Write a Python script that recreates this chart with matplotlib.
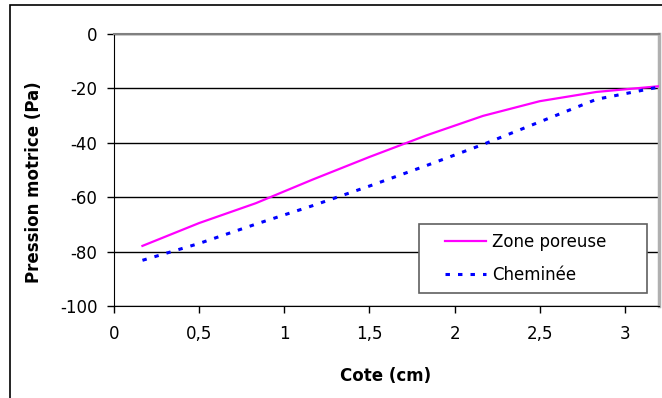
import matplotlib
matplotlib.use("Agg")
import matplotlib.pyplot as plt
from matplotlib.patches import Rectangle

plt.rcParams['font.family'] = ['DejaVu Sans']
plt.rcParams['lines.scale_dashes'] = False
plt.rcParams['axes.unicode_minus'] = False

# data
cote = [0.167, 0.5, 0.833, 1.167, 1.5, 1.833, 2.167, 2.5, 2.833, 3.2]
zone_poreuse = [-77.9, -69.5, -62.2, -53.5, -45.2, -37.3, -30.1, -24.7, -21.3, -19.2]
cheminee = [-83.2, -77.0, -69.9, -63.1, -55.9, -48.4, -40.6, -32.3, -24.0, -19.5]

xticks = [0, 0.5, 1, 1.5, 2, 2.5, 3]
xtick_labels = ['0', '0,5', '1', '1,5', '2', '2,5', '3']
yticks = [0, -20, -40, -60, -80, -100]

W, H = 662, 398
fig = plt.figure(figsize=(W / 100, H / 100), dpi=100)
ax = fig.add_axes([114 / W, 1 - 306 / H, (659 - 114) / W, (306 - 34) / H])

ax.plot(cote, zone_poreuse, color='#ff00ff', lw=1.6, label='Zone poreuse', zorder=3)
ax.plot(cote, cheminee, color='#0000ff', lw=2.2, dashes=(3.2, 5.8),
        label='Cheminée', zorder=3)

ax.set_xlim(0, 3.2)
ax.set_ylim(-100, 0)
ax.set_xticks(xticks)
ax.set_xticklabels(xtick_labels)
ax.set_yticks(yticks)
ax.tick_params(axis='both', direction='out', length=5, width=1, color='black',
               labelsize=12)
ax.tick_params(axis='y', pad=7)
ax.tick_params(axis='x', pad=9)
ax.yaxis.grid(True, color='black', lw=1)
ax.set_axisbelow(True)

ax.spines['left'].set_color('black')
ax.spines['bottom'].set_color('black')
ax.spines['top'].set_color('#808080')
ax.spines['top'].set_linewidth(1.5)
ax.spines['right'].set_color('#b0b0b0')
ax.spines['right'].set_linewidth(2.5)

fig.text(34 / W, 1 - 182 / H, 'Pression motrice (Pa)', rotation=90,
         fontsize=12, fontweight='bold', ha='center', va='center')
fig.text(386 / W, 1 - 376 / H, 'Cote (cm)', fontsize=12, fontweight='bold',
         ha='center', va='center')

# legend box
ax.add_patch(Rectangle((0.56, 0.048), 0.418, 0.253, transform=ax.transAxes,
                       facecolor='white', edgecolor='#606060', lw=1.2, zorder=4))
leg = ax.legend(loc='upper left', bbox_to_anchor=(0.607, 0.27), frameon=False,
                fontsize=12, handlelength=2.5, handletextpad=0.35,
                labelspacing=0.92, borderpad=0, borderaxespad=0)
leg.set_zorder(5)

# outer chart frame (cut by the image edges on the right and bottom)
fig.add_artist(Rectangle((10 / W, -0.1), 2, 1 - 5.5 / H + 0.1,
                         transform=fig.transFigure, fill=False,
                         edgecolor='black', lw=1.2))

fig.savefig('out.png', dpi=100)
